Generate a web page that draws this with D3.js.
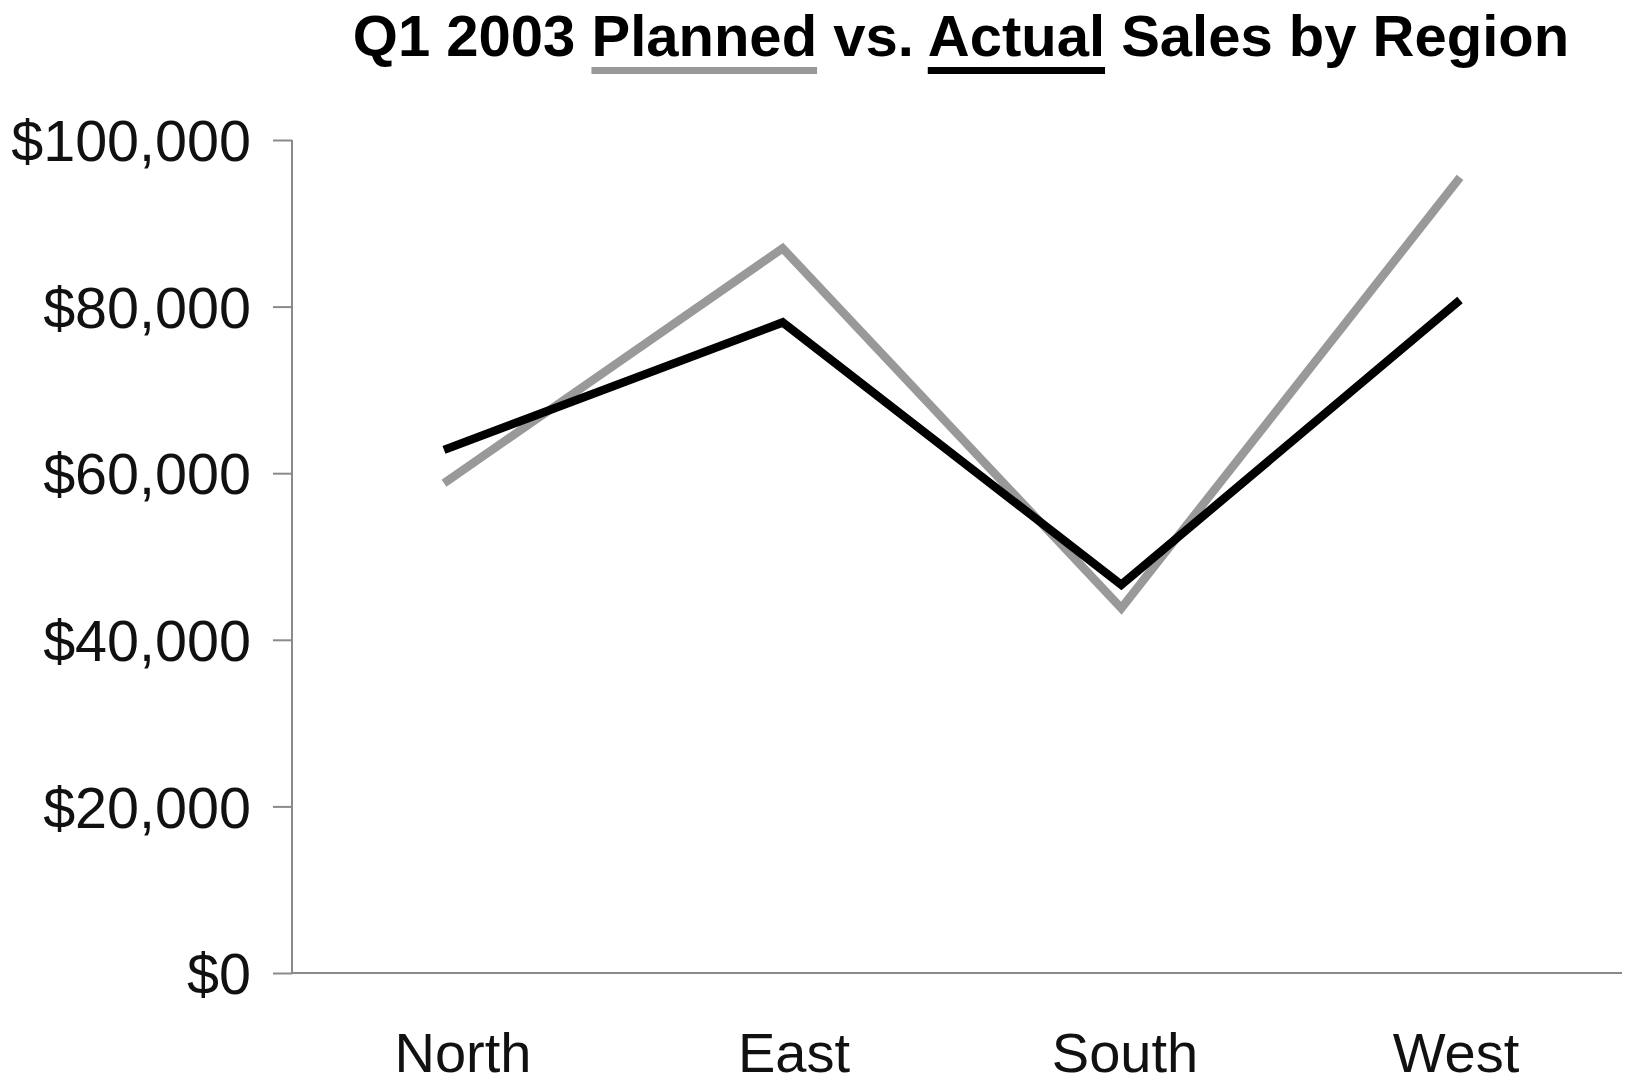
<!DOCTYPE html>
<html>
<head>
<meta charset="utf-8">
<script src="https://cdn.jsdelivr.net/npm/d3@7"></script>
<style>
  html, body { margin: 0; padding: 0; background: #fff; }
  svg { display: block; }
  text { font-family: "Liberation Sans", Arial, sans-serif; }
</style>
</head>
<body>
<svg id="chart" width="1627" height="1085"></svg>
<script>
const regions = ["North", "East", "South", "West"];
const planned = [58800, 87000, 43800, 95500];
const actual  = [62800, 78100, 46600, 80800];
const yTicks  = [0, 20000, 40000, 60000, 80000, 100000];
const titleText = "Q1 2003 Planned vs. Actual Sales by Region";

const svg = d3.select("#chart");
const plotLeft = 292, plotRight = 1622, plotTop = 140, plotBottom = 973;

const x = d3.scalePoint().domain(regions).range([444, 1460]);
const xLabel = d3.scalePoint().domain(regions).range([463, 1456]);
const y = d3.scaleLinear().domain([0, 100000]).range([plotBottom, plotTop]);

const fmt = d => "$" + d3.format(",")(d);

// Y axis
const yAxis = svg.append("g")
  .attr("transform", `translate(${plotLeft},0)`)
  .call(d3.axisLeft(y).tickValues(yTicks).tickFormat(fmt).tickSize(19).tickPadding(22));
yAxis.select(".domain").attr("d", `M0,${plotTop}V${plotBottom}`).attr("stroke", "#8a8a8a").attr("stroke-width", 2);
yAxis.selectAll(".tick line").attr("stroke", "#8a8a8a").attr("stroke-width", 2);
yAxis.selectAll(".tick text").attr("font-size", 57.5).attr("fill", "#111").attr("dy", "0.36em")
  .attr("font-family", "'Liberation Sans', Arial, sans-serif");

// X axis line
svg.append("line")
  .attr("x1", plotLeft).attr("x2", plotRight)
  .attr("y1", y(0)).attr("y2", y(0))
  .attr("stroke", "#8a8a8a").attr("stroke-width", 2);

// X labels
svg.append("g").selectAll("text").data(regions).join("text")
  .attr("x", d => xLabel(d))
  .attr("y", 1072)
  .attr("text-anchor", "middle")
  .attr("font-size", 56)
  .attr("fill", "#111")
  .text(d => d);

// Lines
const line = d3.line().x((d, i) => x(regions[i])).y(d => y(d));
svg.append("path").datum(planned)
  .attr("d", line).attr("fill", "none")
  .attr("stroke", "#999999").attr("stroke-width", 8.5).attr("stroke-linejoin", "miter");
svg.append("path").datum(actual)
  .attr("d", line).attr("fill", "none")
  .attr("stroke", "#000000").attr("stroke-width", 8.5).attr("stroke-linejoin", "miter");

// Title
const title = svg.append("text")
  .attr("x", 961).attr("y", 56)
  .attr("text-anchor", "middle")
  .attr("font-size", 58)
  .attr("font-weight", "bold")
  .attr("fill", "#000")
  .text(titleText);

const tnode = title.node();
const bbox = tnode.getBBox();
const startX = bbox.x;
function underline(word, color) {
  const idx = titleText.indexOf(word);
  const x0 = startX + (idx > 0 ? tnode.getSubStringLength(0, idx) : 0);
  const w = tnode.getSubStringLength(idx, word.length);
  svg.append("rect")
    .attr("x", x0).attr("y", 67)
    .attr("width", w).attr("height", 7)
    .attr("fill", color);
}
underline("Planned", "#999999");
underline("Actual", "#000000");
</script>
</body>
</html>
